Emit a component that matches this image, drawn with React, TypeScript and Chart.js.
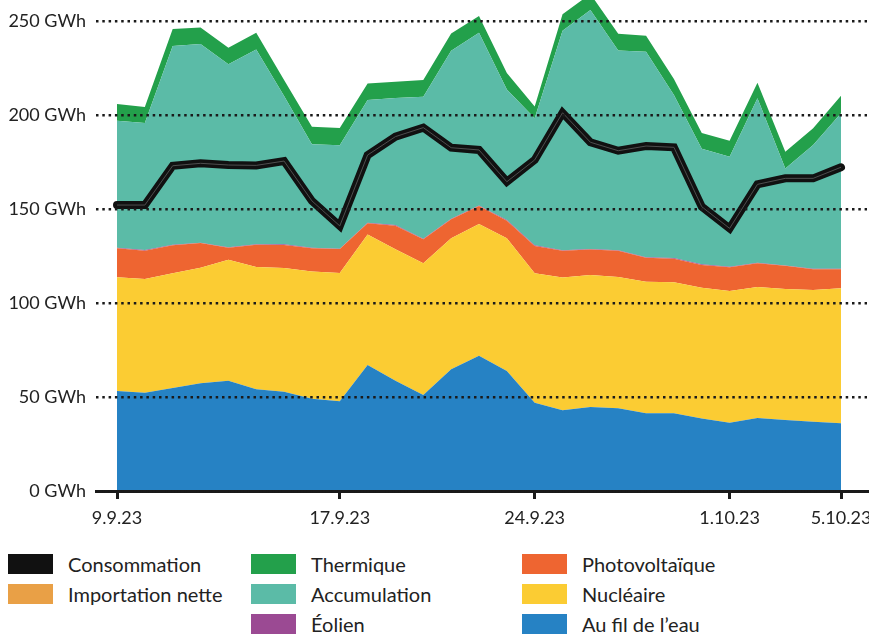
import React, { useEffect, useRef } from 'react';
import { Chart, registerables } from 'chart.js';

Chart.register(...registerables);

const dates = [
  '9.9.23', '10.9.23', '11.9.23', '12.9.23', '13.9.23', '14.9.23', '15.9.23', '16.9.23', '17.9.23',
  '18.9.23', '19.9.23', '20.9.23', '21.9.23', '22.9.23', '23.9.23', '24.9.23', '25.9.23', '26.9.23',
  '27.9.23', '28.9.23', '29.9.23', '30.9.23', '1.10.23', '2.10.23', '3.10.23', '4.10.23', '5.10.23',
];
const xTickLabels = ['9.9.23', '17.9.23', '24.9.23', '1.10.23', '5.10.23'];
const yTickValues = [0, 50, 100, 150, 200, 250];

const auFilDeLEau = [53.2, 52.3, 54.8, 57.3, 58.7, 54.1, 52.8, 49.1, 47.7, 67.0, 58.7, 51.1, 64.7, 72.0, 63.8, 47.0, 42.9, 44.7, 44.0, 41.3, 41.3, 38.5, 36.3, 38.8, 37.8, 36.9, 36.0];
const nucleaire = [60.5, 60.5, 61.0, 61.5, 64.3, 65.0, 65.8, 67.6, 68.3, 69.5, 69.9, 70.0, 69.7, 70.0, 70.6, 68.8, 70.6, 70.2, 69.8, 70.0, 69.7, 69.6, 70.1, 69.7, 69.6, 70.0, 71.8];
const photovoltaique = [15.4, 15.0, 14.9, 13.1, 6.4, 11.9, 12.3, 12.4, 12.7, 5.9, 12.5, 12.8, 10.1, 9.6, 9.4, 14.5, 14.3, 13.5, 14.0, 12.8, 12.6, 12.1, 12.6, 12.6, 12.4, 11.0, 10.1];
const eolien = [0.3, 0.4, 0.3, 0.2, 0.3, 0.3, 0.4, 0.3, 0.2, 0.3, 0.4, 0.3, 0.3, 0.2, 0.3, 0.4, 0.3, 0.3, 0.2, 0.3, 0.3, 0.4, 0.3, 0.3, 0.2, 0.3, 0.3];
const accumulation = [67.6, 67.5, 105.7, 105.7, 97.3, 103.5, 78.8, 55.0, 55.0, 65.3, 67.5, 75.5, 89.4, 92.0, 69.5, 67.6, 116.7, 127.2, 106.3, 109.3, 86.7, 61.4, 58.5, 87.5, 51.5, 65.8, 82.7];
const thermique = [8.9, 8.5, 9.0, 8.7, 8.8, 8.9, 8.5, 9.4, 9.2, 8.8, 8.7, 8.9, 9.2, 8.9, 8.8, 6.2, 8.8, 8.5, 8.9, 8.5, 8.5, 8.4, 8.5, 8.3, 8.9, 8.9, 9.4];
const consommation = [152.1, 152.1, 173.0, 174.3, 173.4, 173.2, 175.5, 154.3, 141.0, 178.7, 188.5, 193.3, 182.6, 181.4, 164.5, 176.1, 201.2, 185.5, 181.0, 183.5, 182.8, 151.2, 139.7, 163.1, 166.3, 166.3, 172.2];

const COLORS = {
  consommation: '#111111',
  importation: '#e9a046',
  thermique: '#23a04b',
  accumulation: '#5bbba7',
  eolien: '#9b4a93',
  photovoltaique: '#ee6531',
  nucleaire: '#fbcc33',
  auFil: '#2682c4',
};

const legendColumns = [
  { x: 8, items: [['Consommation', COLORS.consommation], ['Importation nette', COLORS.importation]] },
  { x: 251, items: [['Thermique', COLORS.thermique], ['Accumulation', COLORS.accumulation], ['Éolien', COLORS.eolien]] },
  { x: 522, items: [['Photovoltaïque', COLORS.photovoltaique], ['Nucléaire', COLORS.nucleaire], ['Au fil de l’eau', COLORS.auFil]] },
];

const FONT = 'Lato, "Noto Sans", sans-serif';
const W = 869;
const CANVAS_H = 545;
const PLOT_BOTTOM = 491;

export default function App() {
  const ref = useRef<HTMLCanvasElement>(null);

  useEffect(() => {
    const canvas = ref.current;
    if (!canvas) return;
    const toXY = (arr: number[]) => arr.map((y, i) => ({ x: i, y }));
    const areas = [
      { label: 'Au fil de l’eau', data: auFilDeLEau, color: COLORS.auFil },
      { label: 'Nucléaire', data: nucleaire, color: COLORS.nucleaire },
      { label: 'Photovoltaïque', data: photovoltaique, color: COLORS.photovoltaique },
      { label: 'Éolien', data: eolien, color: COLORS.eolien },
      { label: 'Accumulation', data: accumulation, color: COLORS.accumulation },
      { label: 'Thermique', data: thermique, color: COLORS.thermique },
    ];
    const datasets: any[] = areas.map((a, i) => ({
      type: 'line',
      label: a.label,
      data: toXY(a.data),
      backgroundColor: a.color,
      borderColor: 'rgba(0,0,0,0)',
      borderWidth: 0,
      pointRadius: 0,
      fill: i === 0 ? 'origin' : '-1',
      stack: 'prod',
      order: 10,
      tension: 0,
    }));
    datasets.push({
      type: 'line',
      label: 'Consommation',
      data: toXY(consommation),
      borderColor: '#111111',
      borderWidth: 8,
      borderCapStyle: 'round',
      borderJoinStyle: 'miter',
      fill: false,
      pointRadius: 0,
      stack: 'c1',
      order: 1,
      tension: 0,
    });
    datasets.push({
      type: 'line',
      label: 'Consommation (trait)',
      data: toXY(consommation),
      borderColor: '#4e4e4e',
      borderWidth: 1,
      borderJoinStyle: 'miter',
      fill: false,
      pointRadius: 0,
      stack: 'c2',
      order: 0,
      tension: 0,
    });

    const pxPerDay = (841 - 117) / (dates.length - 1);
    const xMin = -(117 - 96) / pxPerDay;
    const xMax = dates.length - 1 + (867 - 841) / pxPerDay;
    const yMax = 250 * PLOT_BOTTOM / (PLOT_BOTTOM - 21);

    const chart = new Chart(canvas, {
      type: 'line',
      data: { datasets },
      options: {
        responsive: false,
        animation: false,
        devicePixelRatio: 1,
        layout: { padding: { left: 0, right: 2, top: 0, bottom: 0 } },
        plugins: { legend: { display: false }, tooltip: { enabled: false } },
        scales: {
          x: {
            type: 'linear',
            min: xMin,
            max: xMax,
            afterBuildTicks: (scale: any) => {
              scale.ticks = xTickLabels.map((l) => ({ value: dates.indexOf(l) }));
            },
            afterFit: (scale: any) => {
              scale.height = CANVAS_H - PLOT_BOTTOM;
              scale.paddingLeft = 0;
              scale.paddingRight = 0;
            },
            ticks: {
              autoSkip: false,
              maxRotation: 0,
              padding: 8,
              color: '#222',
              font: { family: FONT, size: 18 },
              callback: (v: any) => dates[Math.round(Number(v))] ?? '',
            },
            grid: {
              drawOnChartArea: false,
              drawTicks: true,
              tickLength: 8,
              lineWidth: 3,
              color: '#1a1a1a',
              z: 1,
            },
            border: { display: true, width: 3, color: '#1a1a1a', z: 1 },
          },
          y: {
            type: 'linear',
            stacked: true,
            min: 0,
            max: yMax,
            afterBuildTicks: (scale: any) => {
              scale.ticks = yTickValues.map((v) => ({ value: v }));
            },
            afterFit: (scale: any) => {
              scale.width = 96;
              scale.paddingTop = 0;
              scale.paddingBottom = 0;
            },
            ticks: {
              padding: 10,
              color: '#222',
              font: { family: FONT, size: 18 },
              callback: (v: any) => `${v} GWh`,
            },
            grid: {
              drawTicks: false,
              color: '#1a1a1a',
              lineWidth: 2.5,
              z: 1,
            },
            border: { display: false, dash: [2.5, 3.8] },
          },
        },
      } as any,
    });
    return () => chart.destroy();
  }, []);

  return (
    <div style={{ position: 'absolute', left: 0, top: 0, width: W, height: 634, background: '#fff', fontFamily: FONT }}>
      <canvas ref={ref} width={W} height={CANVAS_H} style={{ position: 'absolute', left: 0, top: 0 }} />
      {legendColumns.map((col, ci) =>
        col.items.map(([label, color], ri) => (
          <div
            key={`${ci}-${ri}`}
            style={{
              position: 'absolute',
              left: col.x,
              top: 553 + ri * 30,
              height: 22,
              display: 'flex',
              alignItems: 'center',
              whiteSpace: 'nowrap',
            }}
          >
            <span style={{ display: 'inline-block', width: 45, height: 20, background: color }} />
            <span style={{ marginLeft: 15, fontSize: 20, color: '#222', lineHeight: '22px' }}>{label}</span>
          </div>
        ))
      )}
    </div>
  );
}
